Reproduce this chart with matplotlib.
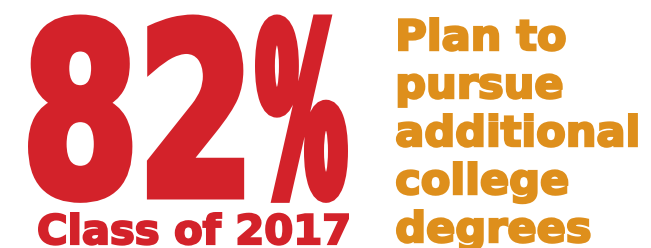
import numpy as np
import matplotlib
matplotlib.use("Agg")
import matplotlib.pyplot as plt
from matplotlib.patheffects import AbstractPathEffect
from matplotlib.transforms import Affine2D
from matplotlib.textpath import TextPath
from matplotlib.path import Path
from matplotlib.font_manager import FontProperties

# ---- content ----
big_value = "82%"
subtitle = "Class of 2017"
caption_lines = ["Plan to", "pursue", "additional", "college", "degrees"]

RED = "#D3222A"
ORANGE = "#DE8F1C"

W, H, DPI = 651, 248, 100
FP = FontProperties(family="DejaVu Sans", weight="bold")


def contour_counts(s):
    out = []
    for c in s:
        codes = TextPath((0, 0), c, size=100, prop=FP).codes
        out.append(0 if codes is None else int(np.sum(codes == Path.MOVETO)))
    return out


def remap(verts, codes, counts, scales, gap):
    """Condense each glyph of a text path with its own horizontal factor."""
    v = verts.copy()
    starts = np.flatnonzero(codes == Path.MOVETO)
    bounds = np.append(starts, len(codes))
    ci = 0
    prevR = prevRn = None
    for n, s in zip(counts, scales):
        if n == 0:
            continue
        a, b = bounds[ci], bounds[ci + n]
        ci += n
        seg = slice(a, b)
        real = codes[seg] != Path.CLOSEPOLY
        xs = verts[seg, 0]
        L, R = xs[real].min(), xs[real].max()
        Ln = L * s if prevR is None else prevRn + (L - prevR) * gap
        v[seg, 0] = Ln + (xs - L) * s
        prevR, prevRn = R, Ln + (R - L) * s
    return v


class Condense(AbstractPathEffect):
    """Condense / embolden the glyphs of a Text artist while it stays text."""

    def __init__(self, sx=1.0, stroke_px=0.0, counts=None, scales=None, gap=None):
        super().__init__()
        self.sx = sx
        self.stroke_pt = stroke_px * 72 / DPI
        self.counts, self.scales, self.gap = counts, scales, gap

    def draw_path(self, renderer, gc, tpath, affine, rgbFace=None):
        if self.counts is not None and tpath.codes is not None:
            tpath = Path(remap(tpath.vertices, tpath.codes, self.counts,
                               self.scales, self.gap), tpath.codes)
            aff = affine
        else:
            aff = Affine2D().scale(self.sx, 1.0) + affine
        gc0 = renderer.new_gc()
        gc0.copy_properties(gc)
        if self.stroke_pt > 0 and rgbFace is not None:
            gc0.set_linewidth(self.stroke_pt)
            gc0.set_foreground(rgbFace)
            gc0.set_joinstyle("miter")
        renderer.draw_path(gc0, tpath, aff, rgbFace)
        gc0.restore()


def ink(s):
    return TextPath((0, 0), s, size=100, prop=FP).get_extents().extents


fig = plt.figure(figsize=(W / DPI, H / DPI), dpi=DPI)
ax = fig.add_axes([0, 0, 1, 1])
ax.set_xlim(0, W)
ax.set_ylim(H, 0)
ax.axis("off")
renderer = fig.canvas.get_renderer()

# ---------------- big number: per-glyph condensing ----------------
s_big = 9.0
left, right, top, base = 28, 348, 14.5, 195
pct_w = 93
tp = TextPath((0, 0), big_value, size=100, prop=FP)
cnt = contour_counts(big_value)
x0, y0, x1, y1 = tp.get_extents().extents
k = (base - top - s_big / 2) / y1
pw = ink("%")
b = (pct_w - s_big) / (k * (pw[2] - pw[0]))
vv = remap(tp.vertices, tp.codes, cnt, [1, 1, 0], 1)
real = tp.codes != Path.CLOSEPOLY
unit_w = vv[real, 0].max() - vv[real, 0].min()
a = ((right - left - s_big) / k - b * (pw[2] - pw[0])) / unit_w
scales = [a, a, b]
vv = remap(tp.vertices, tp.codes, cnt, scales, a)
ox = left + s_big / 2 - k * vv[real, 0].min()
ax.text(ox, base, big_value, fontproperties=FP, fontsize=k * 100 * 72 / DPI,
        color=RED, ha="left", va="baseline", clip_on=False,
        path_effects=[Condense(stroke_px=s_big, counts=cnt, scales=scales, gap=a)])

# ---------------- subtitle ----------------
s_sub = 2.2
left, right, top, base = 38, 349, 212, 244
x0, y0, x1, y1 = ink(subtitle)
k = (base - top - s_sub / 2) / y1
sx = (right - left - s_sub) / (k * (x1 - x0))
ax.text(left + s_sub / 2 - sx * k * x0, base, subtitle, fontproperties=FP,
        fontsize=k * 100 * 72 / DPI, color=RED, ha="left", va="baseline",
        clip_on=False, path_effects=[Condense(sx, s_sub)])

# ---------------- caption (one multi-line text) ----------------
s_cap = 2.4
left, right, top, base = 398, 640, 113, 146
line_gap = 48.0
last_base = 242
x0, y0, x1, y1 = ink("additional")
k = (base - top - s_cap / 2) / y1
sx = (right - left - s_cap) / (k * (x1 - x0))
fsize = k * 100 * 72 / DPI
fp_cap = FP.copy()
fp_cap.set_size(fsize)
_, lp_h, lp_d = renderer.get_text_width_height_descent("lp", fp_cap, ismath=False)
ls = (line_gap - lp_d) / (lp_h - lp_d)
ax.text(left + s_cap / 2 - sx * k * ink("Plan to")[0], last_base,
        "\n".join(caption_lines), fontproperties=FP,
        fontsize=fsize, color=ORANGE, ha="left", va="baseline",
        linespacing=ls, clip_on=False, path_effects=[Condense(sx, s_cap)])

fig.savefig("out.png", dpi=DPI)
